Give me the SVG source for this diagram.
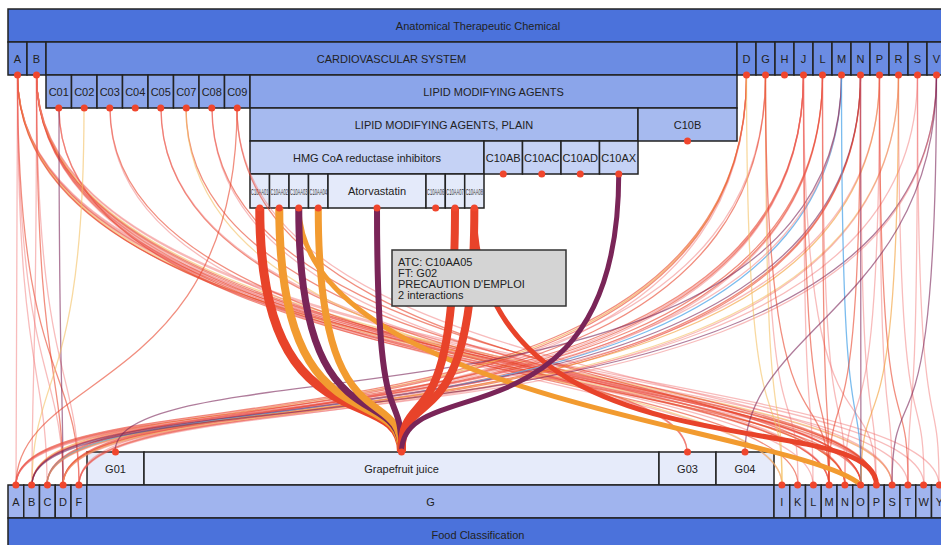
<svg xmlns="http://www.w3.org/2000/svg" width="941" height="545" viewBox="0 0 941 545">
<style>
.bx{stroke:#222;stroke-width:1.5}
.l0{fill:#4b72db}.l1{fill:#6b8ce3}.l2{fill:#8ba5ea}.l3{fill:#a6baef}.l4{fill:#c5d2f5}.l5{fill:#e4eafa}.b1{fill:#e6ebfa}.b2{fill:#a0b4ee}
text{font-family:"Liberation Sans",Arial,sans-serif;font-size:11px;fill:#222;text-anchor:middle}
text.sm{font-size:9px;fill:#333}
.dot{fill:#f0462d}
#links path{fill:none;stroke-width:1.3}
.r{stroke:#e8432a;stroke-opacity:.6}
.p{stroke:#ef6b6b;stroke-opacity:.45}
.o{stroke:#f29b30;stroke-opacity:.6}
.y{stroke:#f3c060;stroke-opacity:.6}
.u{stroke:#7a2558;stroke-opacity:.6}
.bl{stroke:#4fa6e8;stroke-opacity:.75}
#links path.T{stroke-opacity:1}
#links path.w9{stroke-width:9}
#links path.w8{stroke-width:8}
#links path.w7{stroke-width:7}
#links path.w6{stroke-width:6}
#links path.w5{stroke-width:5}
.tip rect{fill:#d4d4d4;stroke:#333;stroke-width:1.5}
.tip text{text-anchor:start}
</style>
<rect width="941" height="545" fill="#ffffff"/>
<g id="atc"><rect class="bx l0" x="8" y="9" width="945" height="33"/><text x="478" y="29.5">Anatomical Therapeutic Chemical</text></g>
<g id="n-A"><rect class="bx l1" x="8" y="42" width="19" height="33"/><text x="17.5" y="62.5">A</text></g>
<g id="n-B"><rect class="bx l1" x="27" y="42" width="19" height="33"/><text x="36.5" y="62.5">B</text></g>
<g id="n-C"><rect class="bx l1" x="46" y="42" width="691" height="33"/><text x="391.5" y="62.5">CARDIOVASCULAR SYSTEM</text></g>
<g id="n-D"><rect class="bx l1" x="737" y="42" width="19" height="33"/><text x="746.5" y="62.5">D</text></g>
<g id="n-G"><rect class="bx l1" x="756" y="42" width="19" height="33"/><text x="765.5" y="62.5">G</text></g>
<g id="n-H"><rect class="bx l1" x="775" y="42" width="19" height="33"/><text x="784.5" y="62.5">H</text></g>
<g id="n-J"><rect class="bx l1" x="794" y="42" width="19" height="33"/><text x="803.5" y="62.5">J</text></g>
<g id="n-L"><rect class="bx l1" x="813" y="42" width="19" height="33"/><text x="822.5" y="62.5">L</text></g>
<g id="n-M"><rect class="bx l1" x="832" y="42" width="19" height="33"/><text x="841.5" y="62.5">M</text></g>
<g id="n-N"><rect class="bx l1" x="851" y="42" width="19" height="33"/><text x="860.5" y="62.5">N</text></g>
<g id="n-P"><rect class="bx l1" x="870" y="42" width="19" height="33"/><text x="879.5" y="62.5">P</text></g>
<g id="n-R"><rect class="bx l1" x="889" y="42" width="19" height="33"/><text x="898.5" y="62.5">R</text></g>
<g id="n-S"><rect class="bx l1" x="908" y="42" width="19" height="33"/><text x="917.5" y="62.5">S</text></g>
<g id="n-V"><rect class="bx l1" x="927" y="42" width="19" height="33"/><text x="936.5" y="62.5">V</text></g>
<g id="n-C01"><rect class="bx l2" x="46" y="75" width="25.5" height="33"/><text x="58.75" y="95.5">C01</text></g>
<g id="n-C02"><rect class="bx l2" x="71.5" y="75" width="25.5" height="33"/><text x="84.25" y="95.5">C02</text></g>
<g id="n-C03"><rect class="bx l2" x="97" y="75" width="25.5" height="33"/><text x="109.75" y="95.5">C03</text></g>
<g id="n-C04"><rect class="bx l2" x="122.5" y="75" width="25.5" height="33"/><text x="135.25" y="95.5">C04</text></g>
<g id="n-C05"><rect class="bx l2" x="148" y="75" width="25.5" height="33"/><text x="160.75" y="95.5">C05</text></g>
<g id="n-C07"><rect class="bx l2" x="173.5" y="75" width="25.5" height="33"/><text x="186.25" y="95.5">C07</text></g>
<g id="n-C08"><rect class="bx l2" x="199" y="75" width="25.5" height="33"/><text x="211.75" y="95.5">C08</text></g>
<g id="n-C09"><rect class="bx l2" x="224.5" y="75" width="25.5" height="33"/><text x="237.25" y="95.5">C09</text></g>
<g id="n-C10"><rect class="bx l2" x="250" y="75" width="487" height="33"/><text x="493.5" y="95.5">LIPID MODIFYING AGENTS</text></g>
<g id="n-C10A"><rect class="bx l3" x="250" y="108" width="388" height="33"/><text x="444" y="128.5">LIPID MODIFYING AGENTS, PLAIN</text></g>
<g id="n-C10B"><rect class="bx l3" x="638" y="108" width="99" height="33"/><text x="687.5" y="128.5">C10B</text></g>
<g id="n-C10AA"><rect class="bx l4" x="250" y="141" width="234" height="33"/><text x="367" y="161.5">HMG CoA reductase inhibitors</text></g>
<g id="n-C10AB"><rect class="bx l4" x="484" y="141" width="38.5" height="33"/><text x="503.25" y="161.5">C10AB</text></g>
<g id="n-C10AC"><rect class="bx l4" x="522.5" y="141" width="38.5" height="33"/><text x="541.75" y="161.5">C10AC</text></g>
<g id="n-C10AD"><rect class="bx l4" x="561" y="141" width="38.5" height="33"/><text x="580.25" y="161.5">C10AD</text></g>
<g id="n-C10AX"><rect class="bx l4" x="599.5" y="141" width="38.5" height="33"/><text x="618.75" y="161.5">C10AX</text></g>
<g id="n-C10AA01"><rect class="bx l5" x="250" y="174" width="19.5" height="34"/><text class="sm" transform="translate(259.75,194.5) scale(0.45,1)">C10AA01</text></g>
<g id="n-C10AA02"><rect class="bx l5" x="269.5" y="174" width="19.5" height="34"/><text class="sm" transform="translate(279.25,194.5) scale(0.45,1)">C10AA02</text></g>
<g id="n-C10AA03"><rect class="bx l5" x="289" y="174" width="19.5" height="34"/><text class="sm" transform="translate(298.75,194.5) scale(0.45,1)">C10AA03</text></g>
<g id="n-C10AA04"><rect class="bx l5" x="308.5" y="174" width="19.5" height="34"/><text class="sm" transform="translate(318.25,194.5) scale(0.45,1)">C10AA04</text></g>
<g id="n-C10AA05"><rect class="bx l5" x="328" y="174" width="98" height="34"/><text x="377" y="195">Atorvastatin</text></g>
<g id="n-C10AA06"><rect class="bx l5" x="426" y="174" width="19.3" height="34"/><text class="sm" transform="translate(435.65,194.5) scale(0.45,1)">C10AA06</text></g>
<g id="n-C10AA07"><rect class="bx l5" x="445.3" y="174" width="19.4" height="34"/><text class="sm" transform="translate(455,194.5) scale(0.45,1)">C10AA07</text></g>
<g id="n-C10AA08"><rect class="bx l5" x="464.7" y="174" width="19.3" height="34"/><text class="sm" transform="translate(474.35,194.5) scale(0.45,1)">C10AA08</text></g>
<g id="f-G01"><rect class="bx b1" x="87" y="452" width="57" height="33"/><text x="115.5" y="472.5">G01</text></g>
<g id="f-G02"><rect class="bx b1" x="144" y="452" width="515" height="33"/><text x="401.5" y="472.5">Grapefruit juice</text></g>
<g id="f-G03"><rect class="bx b1" x="659" y="452" width="57" height="33"/><text x="687.5" y="472.5">G03</text></g>
<g id="f-G04"><rect class="bx b1" x="716" y="452" width="58" height="33"/><text x="745" y="472.5">G04</text></g>
<g id="f-A"><rect class="bx b2" x="8" y="485" width="15.75" height="33"/><text x="15.9" y="505.5">A</text></g>
<g id="f-B"><rect class="bx b2" x="23.75" y="485" width="15.75" height="33"/><text x="31.6" y="505.5">B</text></g>
<g id="f-C"><rect class="bx b2" x="39.5" y="485" width="15.75" height="33"/><text x="47.4" y="505.5">C</text></g>
<g id="f-D"><rect class="bx b2" x="55.25" y="485" width="15.75" height="33"/><text x="63.1" y="505.5">D</text></g>
<g id="f-F"><rect class="bx b2" x="71" y="485" width="15.75" height="33"/><text x="78.9" y="505.5">F</text></g>
<g id="f-G"><rect class="bx b2" x="86.75" y="485" width="687.25" height="33"/><text x="430.5" y="505.5">G</text></g>
<g id="f-I"><rect class="bx b2" x="774" y="485" width="15.75" height="33"/><text x="781.9" y="505.5">I</text></g>
<g id="f-K"><rect class="bx b2" x="789.75" y="485" width="15.75" height="33"/><text x="797.6" y="505.5">K</text></g>
<g id="f-L"><rect class="bx b2" x="805.5" y="485" width="15.75" height="33"/><text x="813.4" y="505.5">L</text></g>
<g id="f-M"><rect class="bx b2" x="821.25" y="485" width="15.75" height="33"/><text x="829.1" y="505.5">M</text></g>
<g id="f-N"><rect class="bx b2" x="837" y="485" width="15.75" height="33"/><text x="844.9" y="505.5">N</text></g>
<g id="f-O"><rect class="bx b2" x="852.75" y="485" width="15.75" height="33"/><text x="860.6" y="505.5">O</text></g>
<g id="f-P"><rect class="bx b2" x="868.5" y="485" width="15.75" height="33"/><text x="876.4" y="505.5">P</text></g>
<g id="f-S"><rect class="bx b2" x="884.25" y="485" width="15.75" height="33"/><text x="892.1" y="505.5">S</text></g>
<g id="f-T"><rect class="bx b2" x="900" y="485" width="15.75" height="33"/><text x="907.9" y="505.5">T</text></g>
<g id="f-W"><rect class="bx b2" x="915.75" y="485" width="15.75" height="33"/><text x="923.6" y="505.5">W</text></g>
<g id="f-Y"><rect class="bx b2" x="931.5" y="485" width="15.75" height="33"/><text x="939.4" y="505.5">Y</text></g>
<g id="food"><rect class="bx l0" x="8" y="518" width="945" height="40"/><text x="478" y="538.5">Food Classification</text></g>
<g id="links">
<path class="r" d="M17.5,75C17.5,382 829,362 829,485"/>
<path class="p" d="M17.5,75C17.5,382 861,362 861,485"/>
<path class="r" d="M17.5,75C17.5,382 876,362 876,485"/>
<path class="p" d="M17.5,75C17.5,382 892,362 892,485"/>
<path class="p" d="M17.5,75C17.5,382 908,362 908,485"/>
<path class="y" d="M17.5,75C17.5,382 845,362 845,485"/>
<path class="p" d="M36.5,75C36.5,382 782,362 782,485"/>
<path class="r" d="M36.5,75C36.5,382 798,362 798,485"/>
<path class="p" d="M36.5,75C36.5,382 813,362 813,485"/>
<path class="r" d="M36.5,75C36.5,382 829,362 829,485"/>
<path class="p" d="M36.5,75C36.5,382 845,362 845,485"/>
<path class="r" d="M36.5,75C36.5,382 861,362 861,485"/>
<path class="r" d="M36.5,75C36.5,382 876,362 876,485"/>
<path class="y" d="M36.5,75C36.5,382 892,362 892,485"/>
<path class="p" d="M36.5,75C36.5,382 924,362 924,485"/>
<path class="p" d="M36.5,75C36.5,382 939,362 939,485"/>
<path class="r" d="M59,108C59,391 861,372 861,485"/>
<path class="p" d="M59,108C59,391 876,372 876,485"/>
<path class="r" d="M110,108C110,391 876,372 876,485"/>
<path class="r" d="M161,108C161,391 845,372 845,485"/>
<path class="p" d="M161,108C161,391 861,372 861,485"/>
<path class="r" d="M186,108C186,391 861,372 861,485"/>
<path class="y" d="M186,108C186,391 782,372 782,485"/>
<path class="r" d="M212,108C212,391 876,372 876,485"/>
<path class="p" d="M212,108C212,391 829,372 829,485"/>
<path class="r" d="M237,108C237,391 845,372 845,485"/>
<path class="p" d="M237,108C237,391 892,372 892,485"/>
<path class="r" d="M17.5,75C17.5,360 687,339 687,452"/>
<path class="p" d="M110,108C110,366 687,349 687,452"/>
<path class="p" d="M17.5,75C17.5,382 16,362 16,485"/>
<path class="p" d="M17.5,75C17.5,382 47,362 47,485"/>
<path class="r" d="M17.5,75C17.5,382 79,362 79,485"/>
<path class="p" d="M17.5,75C17.5,382 63,362 63,485"/>
<path class="p" d="M36.5,75C36.5,382 32,362 32,485"/>
<path class="r" d="M36.5,75C36.5,382 63,362 63,485"/>
<path class="p" d="M36.5,75C36.5,382 79,362 79,485"/>
<path class="u" d="M59,108C59,391 63,372 63,485"/>
<path class="y" d="M84,108C84,391 32,372 32,485"/>
<path class="r" d="M237,108C237,391 16,372 16,485"/>
<path class="r" d="M746.5,75C746.5,485 16,362 16,485"/>
<path class="o" d="M746.5,75C746.5,485 32,362 32,485"/>
<path class="r" d="M746.5,75C746.5,485 47,362 47,485"/>
<path class="p" d="M746.5,75C746.5,485 79,362 79,485"/>
<path class="p" d="M765.5,75C765.5,485 16,362 16,485"/>
<path class="r" d="M765.5,75C765.5,485 63,362 63,485"/>
<path class="r" d="M803.5,75C803.5,485 16,362 16,485"/>
<path class="p" d="M803.5,75C803.5,485 32,362 32,485"/>
<path class="r" d="M803.5,75C803.5,485 47,362 47,485"/>
<path class="p" d="M803.5,75C803.5,485 63,362 63,485"/>
<path class="r" d="M822.5,75C822.5,485 32,362 32,485"/>
<path class="p" d="M822.5,75C822.5,485 79,362 79,485"/>
<path class="r" d="M822.5,75C822.5,485 63,362 63,485"/>
<path class="bl" d="M841.5,75C841.5,485 47,362 47,485"/>
<path class="p" d="M841.5,75C841.5,485 16,362 16,485"/>
<path class="r" d="M860.5,75C860.5,485 63,362 63,485"/>
<path class="u" d="M860.5,75C860.5,485 32,362 32,485"/>
<path class="r" d="M860.5,75C860.5,485 79,362 79,485"/>
<path class="o" d="M879.5,75C879.5,485 47,362 47,485"/>
<path class="p" d="M879.5,75C879.5,485 16,362 16,485"/>
<path class="y" d="M898.5,75C898.5,485 63,362 63,485"/>
<path class="p" d="M898.5,75C898.5,485 79,362 79,485"/>
<path class="p" d="M917.5,75C917.5,485 47,362 47,485"/>
<path class="u" d="M936.5,75C936.5,485 32,362 32,485" stroke-opacity=".35"/>
<path class="p" d="M936.5,75C936.5,485 63,362 63,485"/>
<path class="u" d="M841.5,75C841.5,452 115,339 115,452"/>
<path class="y" d="M746.5,75C746.5,485 782,362 782,485"/>
<path class="y" d="M765.5,75C765.5,485 782,362 782,485"/>
<path class="p" d="M765.5,75C765.5,485 798,362 798,485"/>
<path class="r" d="M765.5,75C765.5,485 829,362 829,485"/>
<path class="r" d="M803.5,75C803.5,485 829,362 829,485"/>
<path class="p" d="M803.5,75C803.5,485 813,362 813,485"/>
<path class="p" d="M803.5,75C803.5,485 876,362 876,485"/>
<path class="r" d="M822.5,75C822.5,485 829,362 829,485"/>
<path class="p" d="M822.5,75C822.5,485 845,362 845,485"/>
<path class="bl" d="M841.5,75C841.5,485 861,362 861,485"/>
<path class="r" d="M860.5,75C860.5,485 829,362 829,485"/>
<path class="u" d="M860.5,75C860.5,485 861,362 861,485"/>
<path class="p" d="M860.5,75C860.5,485 876,362 876,485"/>
<path class="p" d="M879.5,75C879.5,485 892,362 892,485"/>
<path class="r" d="M879.5,75C879.5,485 908,362 908,485"/>
<path class="p" d="M879.5,75C879.5,485 845,362 845,485"/>
<path class="o" d="M898.5,75C898.5,485 861,362 861,485"/>
<path class="p" d="M898.5,75C898.5,485 924,362 924,485"/>
<path class="p" d="M917.5,75C917.5,485 939,362 939,485"/>
<path class="p" d="M917.5,75C917.5,485 908,362 908,485"/>
<path class="u" d="M936.5,75C936.5,485 892,362 892,485" stroke-opacity=".35"/>
<path class="u" d="M936.5,75C936.5,300 745,330 745,452"/>
<path class="o T w5" d="M298.75,208C305,400 800,430 861,485"/>
<path class="r T w5" d="M474.35,208C474.35,485 876.4,402 876.4,485"/>
<path class="r T w9" d="M259.75,208C259.75,452 401.5,379 401.5,452"/>
<path class="o T w8" d="M279.25,208C279.25,452 401.5,379 401.5,452"/>
<path class="u T w7" d="M298.75,208C298.75,452 401.5,379 401.5,452"/>
<path class="o T w7" d="M318.25,208C318.25,452 401.5,379 401.5,452"/>
<path class="u T w6" d="M377,208C377,452 401.5,379 401.5,452"/>
<path class="r T w8" d="M455,208C455,452 401.5,379 401.5,452"/>
<path class="r T w8" d="M474.35,208C474.35,452 401.5,379 401.5,452"/>
<path class="u T w5" d="M618.75,174C618.75,452 401.5,369 401.5,452"/>
</g>
<g id="dots" class="dot">
<circle cx="17.5" cy="75" r="3.5"/><circle cx="36.5" cy="75" r="3.5"/>
<circle cx="746.5" cy="75" r="3.5"/><circle cx="765.5" cy="75" r="3.5"/><circle cx="784.5" cy="75" r="3.5"/><circle cx="803.5" cy="75" r="3.5"/><circle cx="822.5" cy="75" r="3.5"/><circle cx="841.5" cy="75" r="3.5"/><circle cx="860.5" cy="75" r="3.5"/><circle cx="879.5" cy="75" r="3.5"/><circle cx="898.5" cy="75" r="3.5"/><circle cx="917.5" cy="75" r="3.5"/><circle cx="936.5" cy="75" r="3.5"/>
<circle cx="58.75" cy="108" r="3.5"/><circle cx="84.25" cy="108" r="3.5"/><circle cx="109.75" cy="108" r="3.5"/><circle cx="135.25" cy="108" r="3.5"/><circle cx="160.75" cy="108" r="3.5"/><circle cx="186.25" cy="108" r="3.5"/><circle cx="211.75" cy="108" r="3.5"/><circle cx="237.25" cy="108" r="3.5"/>
<circle cx="687.5" cy="141" r="3.5"/>
<circle cx="503.25" cy="174" r="3.5"/><circle cx="541.75" cy="174" r="3.5"/><circle cx="580.25" cy="174" r="3.5"/><circle cx="618.75" cy="174" r="3.5"/>
<circle cx="259.75" cy="208" r="3.5"/><circle cx="279.25" cy="208" r="3.5"/><circle cx="298.75" cy="208" r="3.5"/><circle cx="318.25" cy="208" r="3.5"/><circle cx="377" cy="208" r="3.5"/><circle cx="435.65" cy="208" r="3.5"/><circle cx="455" cy="208" r="3.5"/><circle cx="474.35" cy="208" r="3.5"/>
<circle cx="115.5" cy="452" r="3.5"/><circle cx="401.5" cy="452" r="3.5"/><circle cx="687.5" cy="452" r="3.5"/><circle cx="745" cy="452" r="3.5"/>
<circle cx="15.9" cy="485" r="3.5"/><circle cx="31.6" cy="485" r="3.5"/><circle cx="47.4" cy="485" r="3.5"/><circle cx="63.1" cy="485" r="3.5"/><circle cx="78.9" cy="485" r="3.5"/>
<circle cx="781.9" cy="485" r="3.5"/><circle cx="797.6" cy="485" r="3.5"/><circle cx="813.4" cy="485" r="3.5"/><circle cx="829.1" cy="485" r="3.5"/><circle cx="844.9" cy="485" r="3.5"/><circle cx="860.6" cy="485" r="3.5"/><circle cx="876.4" cy="485" r="3.5"/><circle cx="892.1" cy="485" r="3.5"/><circle cx="907.9" cy="485" r="3.5"/><circle cx="923.6" cy="485" r="3.5"/><circle cx="939.4" cy="485" r="3.5"/>
</g>
<g id="tooltip" class="tip">
<rect x="392" y="250" width="174" height="56"/>
<text x="398" y="266">ATC: C10AA05</text>
<text x="398" y="277">FT: G02</text>
<text x="398" y="288">PRECAUTION D'EMPLOI</text>
<text x="398" y="299">2 interactions</text>
</g>
</svg>
